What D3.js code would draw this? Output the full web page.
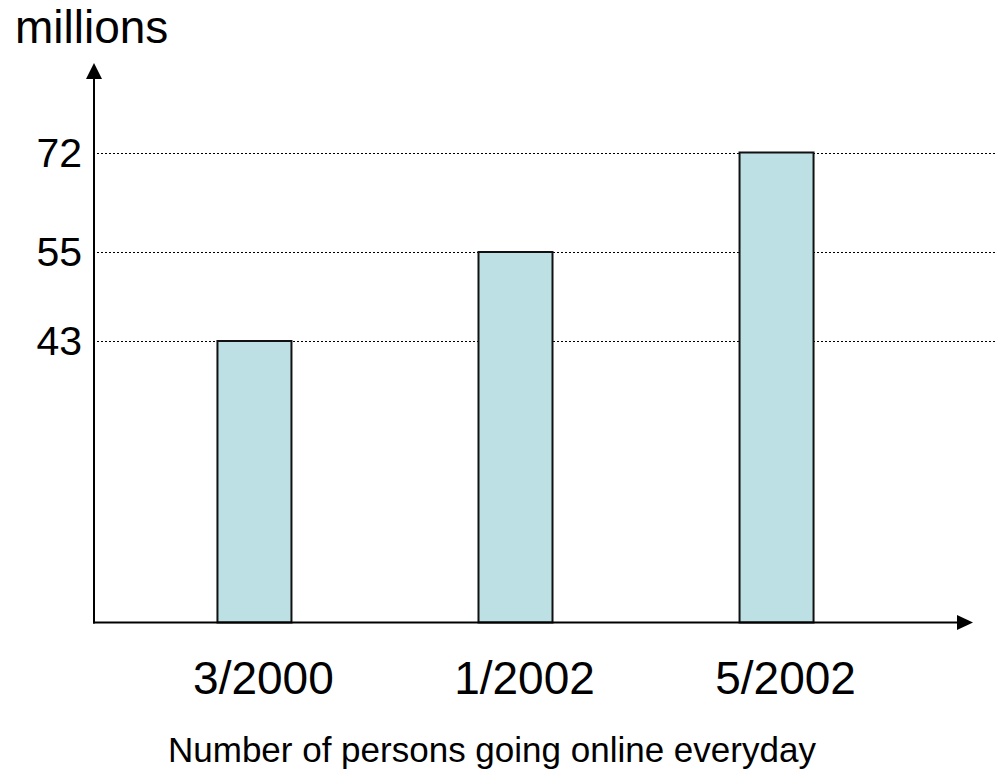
<!DOCTYPE html>
<html>
<head>
<meta charset="utf-8">
<script src="https://cdn.jsdelivr.net/npm/d3@7"></script>
<style>
  body { margin: 0; background: #fff; }
  svg text { font-family: "Liberation Sans", Arial, sans-serif; fill: #000; }
</style>
</head>
<body>
<div id="chart"></div>
<script>
// data
const categories = ['3/2000', '1/2002', '5/2002'];
const values = [43, 55, 72];
const tickValues = [43, 55, 72];
const yTitle = 'millions';
const xTitle = 'Number of persons going online everyday';

const width = 997;
const height = 770;
const origin = { x: 94, y: 622.5 };

const svg = d3.select('#chart')
    .append('svg')
    .attr('width', width)
    .attr('height', height);

// the original axis is not to scale, so map the labelled values piecewise
const y = d3.scaleLinear()
    .domain([0, 43, 55, 72])
    .range([origin.y, 341, 252, 152.5]);

const x = d3.scaleBand()
    .domain(categories)
    .range([124, 907])
    .paddingInner(0.7165)
    .paddingOuter(0.358);

// dotted gridlines
svg.append('g')
    .selectAll('line')
    .data(tickValues)
    .enter()
    .append('line')
    .attr('x1', origin.x + 3)
    .attr('x2', width)
    .attr('y1', d => Math.round(y(d)) + 0.5)
    .attr('y2', d => Math.round(y(d)) + 0.5)
    .attr('stroke', '#000')
    .attr('stroke-width', 1)
    .attr('stroke-dasharray', '2,2');

// bars
svg.append('g')
    .selectAll('rect')
    .data(values)
    .enter()
    .append('rect')
    .attr('x', (d, i) => x(categories[i]))
    .attr('y', d => y(d))
    .attr('width', x.bandwidth())
    .attr('height', d => origin.y - y(d))
    .attr('fill', '#bce0e3')
    .attr('stroke', '#111')
    .attr('stroke-width', 2);

// axes with arrowheads
const axes = svg.append('g');
axes.append('line')
    .attr('x1', origin.x).attr('y1', origin.y + 1)
    .attr('x2', origin.x).attr('y2', 76)
    .attr('stroke', '#000').attr('stroke-width', 2);
axes.append('polygon')
    .attr('points', [[origin.x, 63], [origin.x - 8, 79], [origin.x + 8, 79]].map(p => p.join(',')).join(' '))
    .attr('fill', '#000');
axes.append('line')
    .attr('x1', origin.x - 1).attr('y1', origin.y)
    .attr('x2', 960).attr('y2', origin.y)
    .attr('stroke', '#000').attr('stroke-width', 2);
axes.append('polygon')
    .attr('points', [[973, origin.y], [957, origin.y - 7.5], [957, origin.y + 7.5]].map(p => p.join(',')).join(' '))
    .attr('fill', '#000');

// y tick labels
svg.append('g')
    .selectAll('text')
    .data(tickValues)
    .enter()
    .append('text')
    .attr('x', 82)
    .attr('y', d => y(d) + 14)
    .attr('text-anchor', 'end')
    .attr('font-size', 41)
    .text(d => d);

// category labels
svg.append('g')
    .selectAll('text')
    .data(categories)
    .enter()
    .append('text')
    .attr('x', d => x(d) + x.bandwidth() / 2 + 9)
    .attr('y', 694)
    .attr('text-anchor', 'middle')
    .attr('font-size', 46)
    .text(d => d);

// titles
svg.append('text')
    .attr('x', 15)
    .attr('y', 43)
    .attr('font-size', 46)
    .text(yTitle);

svg.append('text')
    .attr('x', 168)
    .attr('y', 762)
    .attr('font-size', 35)
    .text(xTitle);
</script>
</body>
</html>
